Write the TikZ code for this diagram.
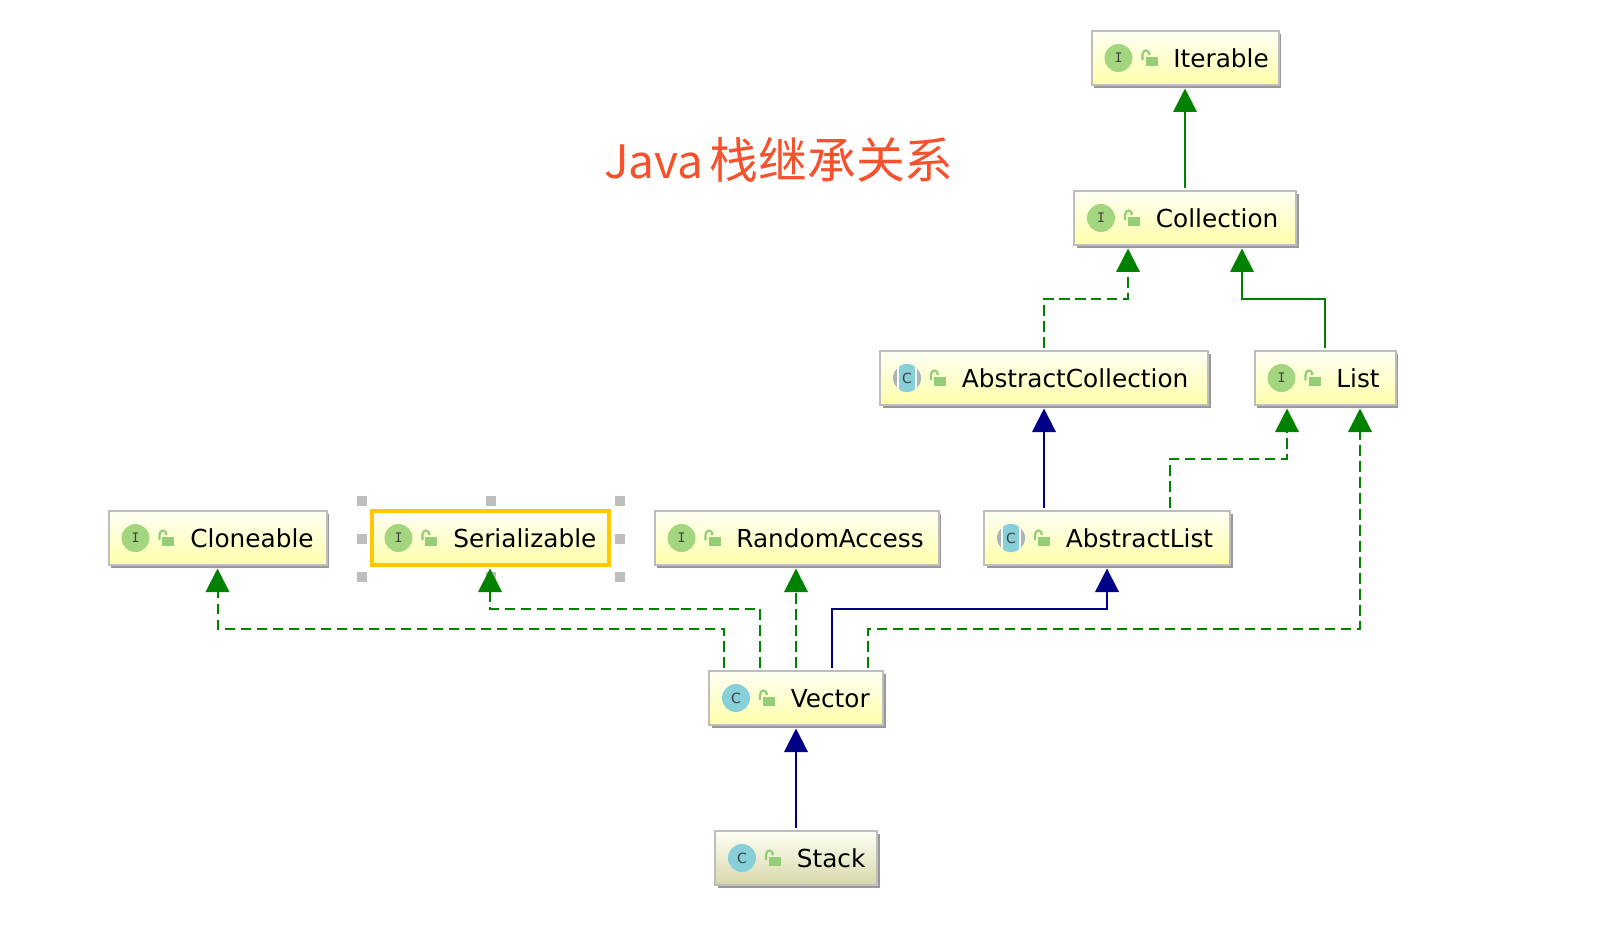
\documentclass[tikz,border=0pt]{standalone}
\usepackage{fontspec}
\setmainfont{DejaVu Sans}
\setmonofont{DejaVu Sans Mono}
\newfontfamily\cjkfont{Noto Sans CJK SC}
\usetikzlibrary{arrows.meta, positioning, calc, shadows}
\definecolor{box-line}{RGB}{190,190,190}
\definecolor{box-top}{RGB}{255,255,245}
\definecolor{box-bottom}{RGB}{255,255,170}
\definecolor{stack-bottom}{RGB}{216,216,170}
\definecolor{select-line}{RGB}{255,200,0}
\definecolor{iface-fill}{RGB}{163,214,127}
\definecolor{class-fill}{RGB}{135,208,216}
\definecolor{abstract-side}{RGB}{172,182,186}
\definecolor{lock-green}{RGB}{148,206,118}
\definecolor{impl-green}{RGB}{0,130,0}
\definecolor{ext-navy}{RGB}{0,0,135}
\definecolor{title-red}{RGB}{244,81,44}

\tikzset{
  umlbox/.style={draw=box-line, line width=0.04cm, top color=box-top, bottom color=box-bottom, minimum height=1.08cm, outer sep=0.07cm, inner sep=0pt},
  boxshadow/.style={drop shadow={shadow xshift=0.05cm, shadow yshift=-0.05cm, fill=gray!80, opacity=1}},
  iconbase/.style={circle, minimum size=0.56cm, inner sep=0pt, font=\fontsize{7.5}{8}\ttfamily, text=black!75},
  ifaceicon/.style={iconbase, fill=iface-fill},
  classicon/.style={iconbase, fill=class-fill, font=\fontsize{8}{8}\selectfont},
  abstracticon/.style={iconbase, fill=abstract-side, font=\fontsize{8}{8}\selectfont, path picture={
    \fill[white] (path picture bounding box.south) ++(-0.2cm,0) rectangle ++(0.4cm,0.6cm);
    \fill[class-fill] (path picture bounding box.south) ++(-0.16cm,0) rectangle ++(0.32cm,0.6cm);}},
  boxtext/.style={anchor=base west, inner sep=0pt, font=\fontsize{14.1}{16}\selectfont},
  handle/.style={fill=box-line, minimum size=0.2cm, inner sep=0pt},
  heading/.style={inner sep=0pt, text=title-red, font=\fontsize{26.2}{30}\cjkfont},
  lockicon/.pic={
    \draw[lock-green, line width=0.045cm] (1,2) -- (1,-3) .. controls (1,-9) and (8,-9) .. (8,-3);
    \fill[lock-green] (4,-1) rectangle (16,8);
  },
  impl/.style={-{Triangle[length=0.47cm, width=0.47cm]}, impl-green, line width=0.04cm},
  impldash/.style={impl, dash pattern=on 0.21cm off 0.11cm},
  ext/.style={-{Triangle[length=0.47cm, width=0.47cm]}, ext-navy, line width=0.04cm},
}

% box, then icon, lock and name
\newcommand{\classbox}[7][boxshadow]{
  \node[umlbox, minimum width=#4*0.02cm, #1] (#2) at (#3) {};
  \node[#5] (#2-icon) at ([xshift=0.61cm]#2.west) {#6};
  \pic at ([xshift=1.07cm]#2.west) {lockicon};
  \node[boxtext] (#2-name) at ([xshift=1.70cm, yshift=-0.19cm]#2.west) {#7};
}

\begin{document}
\begin{tikzpicture}[x=0.02cm, y=-0.02cm]
  \useasboundingbox (0,0) rectangle (1608,924);

  % Title
  \node[heading] (title) at (779,160) {Java\hspace{0.12cm}{\fontsize{27.8}{30}\selectfont 栈继承关系}};

  % Top of the tree
  \classbox{iterable}{1185,58}{187}{ifaceicon}{I}{Iterable}
  \classbox{collection}{1185,218}{222}{ifaceicon}{I}{Collection}
  \classbox{abstractcollection}{1044,378}{328}{abstracticon}{C}{AbstractCollection}
  \classbox{list}{1325,378}{141}{ifaceicon}{I}{List}

  % Middle row
  \classbox{cloneable}{217.5,538}{218}{ifaceicon}{I}{Cloneable}
  \foreach \hx/\hy/\hn in {362/501/a, 491/501/b, 620/501/c, 362/539/d, 620/539/e, 362/577/f, 491/577/g, 620/577/h}
    \node[handle] (handle-\hn) at (\hx,\hy) {};
  \classbox[line width=0.08cm, draw=select-line]{serializable}{490,538}{237}{ifaceicon}{I}{Serializable}
  \classbox{randomaccess}{796.5,538}{284}{ifaceicon}{I}{RandomAccess}
  \classbox{abstractlist}{1107,538}{246}{abstracticon}{C}{AbstractList}

  % Bottom
  \classbox{vector}{796,698}{174}{classicon}{C}{Vector}
  \classbox[boxshadow, bottom color=stack-bottom]{stack}{796,858}{162}{classicon}{C}{Stack}

  % Upper arrows
  \draw[impl] (collection) -- (iterable);
  \draw[impldash] (abstractcollection.north) -- ++(0,-49) -| ([xshift=-1.14cm]collection.south);
  \draw[impl] (list.north) -- ++(0,-49) -| ([xshift=1.14cm]collection.south);
  \draw[ext] (abstractlist.north -| abstractcollection.south) -- (abstractcollection.south);
  \draw[impldash] ([xshift=1.26cm]abstractlist.north) -- ++(0,-49) -| ([xshift=-0.76cm]list.south);
  \draw[impldash] ([xshift=1.44cm]vector.north) -- ++(0,-39) -| ([xshift=0.7cm]list.south);

  % Arrows from vector
  \draw[impldash] ([xshift=-1.44cm]vector.north) -- ++(0,-39) -| (cloneable.south);
  \draw[impldash] ([xshift=-0.72cm]vector.north) -- ++(0,-59) -| (serializable.south);
  \draw[impldash] (vector) -- (vector |- randomaccess.south);
  \draw[ext] ([xshift=0.72cm]vector.north) -- ++(0,-59) -| (abstractlist.south);
  \draw[ext] (stack) -- (vector);
\end{tikzpicture}
\end{document}
